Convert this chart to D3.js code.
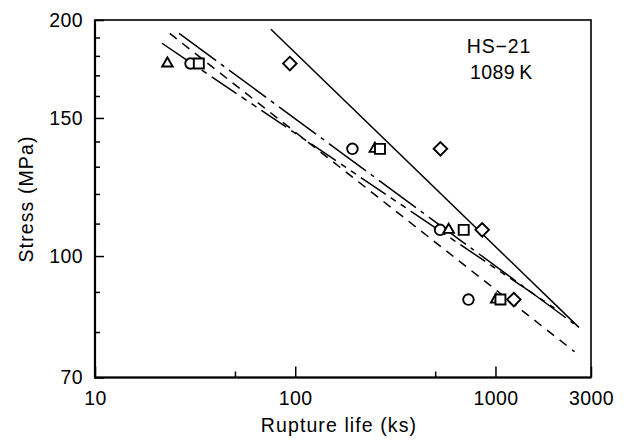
<!DOCTYPE html>
<html>
<head>
<meta charset="utf-8">
<script src="https://cdn.jsdelivr.net/npm/d3@7"></script>
<style>
body { margin: 0; background: #fff; }
text { font-family: "Liberation Sans", Arial, sans-serif; fill: #000; }
</style>
</head>
<body>
<div id="chart"></div>
<script>
// values
var stressLevels = [176, 137, 108, 88];
var lifeTriangle = [23, 250, 584, 1008];
var lifeCircle = [30, 193, 529, 733];
var lifeSquare = [33, 265, 694, 1059];
var lifeDiamond = [94, 531, 858, 1235];

// fitted lines, [rupture life, stress] at each end
var fitSolid = [[75.6, 194.6], [2609, 81.1]];
var fitDashed = [[23.6, 192.3], [2483, 75.5]];
var fitLongDot = [[26.3, 192.3], [2609, 81.1]];
var fitLongDash = [[21.6, 186.8], [1972, 85.8]];

var xTicks = [10, 100, 1000, 3000];
var xMinor = [50, 500];
var yTicks = [70, 100, 150, 200];
var yMinor = [80, 90, 110, 120, 130, 140, 160, 170, 180, 190];

// set the dimensions and margins of the graph
var margin = {top: 20, right: 39, bottom: 67.5, left: 95},
    width = 630 - margin.left - margin.right,
    height = 445 - margin.top - margin.bottom;

var svg = d3.select("#chart")
  .append("svg")
    .attr("width", 630)
    .attr("height", 445)
  .append("g")
    .attr("transform", "translate(" + margin.left + "," + margin.top + ")");

var x = d3.scaleLog().domain([10, 3000]).range([0, width]);
var y = d3.scaleLog().domain([70, 200]).range([height, 0]);

// x axis, ticks pointing inward
svg.append("g")
  .attr("transform", "translate(0," + height + ")")
  .call(d3.axisBottom(x).tickValues(xTicks).tickFormat(d3.format("d"))
    .tickSize(-11).tickSizeOuter(0).tickPadding(14));
svg.append("g")
  .attr("transform", "translate(0," + height + ")")
  .call(d3.axisBottom(x).tickValues(xMinor).tickFormat("").tickSize(-6).tickSizeOuter(0));

// y axis
svg.append("g")
  .call(d3.axisLeft(y).tickValues(yTicks).tickFormat(d3.format("d"))
    .tickSize(-9).tickSizeOuter(0).tickPadding(12));
svg.append("g")
  .call(d3.axisLeft(y).tickValues(yMinor).tickFormat("").tickSize(-5).tickSizeOuter(0));

svg.selectAll(".domain").remove();
svg.selectAll(".tick line").attr("stroke", "#000").attr("stroke-width", 1.5);
svg.selectAll(".tick text")
  .attr("font-family", null)
  .style("font-size", "19.5px")
  .style("letter-spacing", "0.4px");

// frame
svg.append("rect")
  .attr("width", width).attr("height", height)
  .attr("fill", "none").attr("stroke", "#000").attr("stroke-width", 1.6);
svg.append("path")
  .attr("d", "M0,0V" + height + "H" + width)
  .attr("fill", "none").attr("stroke", "#000").attr("stroke-width", 2.2);

// fitted lines
var line = d3.line()
  .x(function(d) { return x(d[0]); })
  .y(function(d) { return y(d[1]); });

var fits = [
  {pts: fitSolid, dash: null},
  {pts: fitDashed, dash: "9,7"},
  {pts: fitLongDot, dash: "46,6,4,6"},
  {pts: fitLongDash, dash: "30,6,6,6,6,6"}
];
svg.append("g").selectAll("path")
  .data(fits)
  .enter()
  .append("path")
    .attr("d", function(d) { return line(d.pts); })
    .attr("fill", "none")
    .attr("stroke", "#000")
    .attr("stroke-width", 1.5)
    .attr("stroke-dasharray", function(d) { return d.dash; });

// points
var series = [
  {life: lifeCircle, shape: d3.symbolCircle, size: 88, rot: 0},
  {life: lifeTriangle, shape: d3.symbolTriangle, size: 48, rot: 0},
  {life: lifeSquare, shape: d3.symbolSquare, size: 100, rot: 0},
  {life: lifeDiamond, shape: d3.symbolSquare, size: 92, rot: 45}
];
series.forEach(function(s) {
  svg.append("g").selectAll("path")
    .data(s.life)
    .enter()
    .append("path")
      .attr("d", d3.symbol().type(s.shape).size(s.size))
      .attr("transform", function(d, i) {
        return "translate(" + x(d) + "," + y(stressLevels[i]) + ") rotate(" + s.rot + ")";
      })
      .attr("fill", "#fff")
      .attr("stroke", "#000")
      .attr("stroke-width", 1.9);
});

// labels
svg.append("text")
  .attr("x", width / 2 - 4)
  .attr("y", height + 54)
  .attr("text-anchor", "middle")
  .style("font-size", "19.5px")
  .style("letter-spacing", "1.1px")
  .text("Rupture life (ks)");

svg.append("text")
  .attr("transform", "translate(" + (33 - margin.left) + "," + 179 + ") rotate(-90)")
  .attr("text-anchor", "middle")
  .style("font-size", "19.5px")
  .style("letter-spacing", "1.1px")
  .text("Stress (MPa)");

svg.append("text")
  .attr("x", 466.7 - margin.left)
  .attr("y", 53.3 - margin.top)
  .style("font-size", "19.5px")
  .style("letter-spacing", "0.9px")
  .text("HS\u221221");
svg.append("text")
  .attr("x", 470 - margin.left)
  .attr("y", 79 - margin.top)
  .style("font-size", "19.5px")
  .style("letter-spacing", "0.4px")
  .text("1089\u2009K");
</script>
</body>
</html>
